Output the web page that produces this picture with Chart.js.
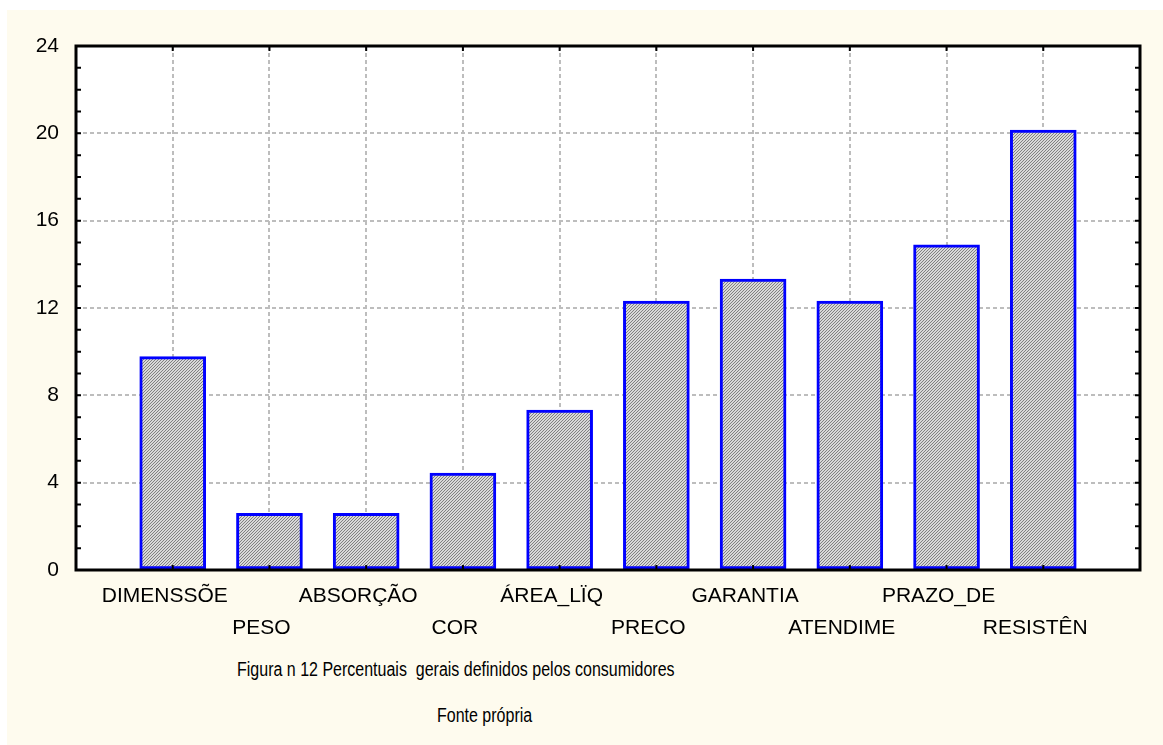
<!DOCTYPE html>
<html>
<head>
<meta charset="utf-8">
<script src="https://cdn.jsdelivr.net/npm/chart.js@4.4.0/dist/chart.umd.min.js"></script>
<style>
  body { margin: 0; background: #fff; width: 1163px; height: 745px; overflow: hidden; position: relative; font-family: "Liberation Sans", Arial, sans-serif; }
  #panel { position: absolute; left: 7px; top: 10px; width: 1156px; height: 735px; background: #fefbee; }
  #chart { position: absolute; left: 0; top: 0; }
  .cap { position: absolute; font-size: 20px; color: #000; white-space: pre; transform: scaleX(0.8); transform-origin: left top; }
</style>
</head>
<body>
<div id="panel">
  <canvas id="chart" width="1156" height="640"></canvas>
  <div class="cap" style="left:230px; top:648px;">Figura n 12 Percentuais  gerais definidos pelos consumidores</div>
  <div class="cap" style="left:430px; top:694px;">Fonte própria</div>
</div>
<script>
// data
const categories = ["DIMENSSÕE", "PESO", "ABSORÇÃO", "COR", "ÁREA_LÏQ", "PRECO", "GARANTIA", "ATENDIME", "PRAZO_DE", "RESISTÊN"];
const percentages = [9.77, 2.6, 2.6, 4.44, 7.33, 12.32, 13.33, 12.32, 14.89, 20.15];
const yTicks = [0, 4, 8, 12, 16, 20, 24];

// fine diagonal hatch like the original fill
function hatch() {
  const c = document.createElement("canvas");
  c.width = 3; c.height = 3;
  const g = c.getContext("2d");
  g.fillStyle = "#d8d8d8";
  g.fillRect(0, 0, 3, 3);
  g.fillStyle = "#808080";
  g.fillRect(0, 2, 1, 1);
  g.fillRect(1, 1, 1, 1);
  g.fillRect(2, 0, 1, 1);
  return g.createPattern(c, "repeat");
}

const frame = {
  id: "frame",
  beforeDraw(chart) {
    const { ctx, chartArea: a } = chart;
    ctx.save();
    ctx.fillStyle = "#fff";
    ctx.fillRect(a.left, a.top, a.right - a.left, a.bottom - a.top);
    ctx.restore();
  },
  afterDatasetsDraw(chart) {
    const { ctx, chartArea: a, scales } = chart;
    ctx.save();
    ctx.strokeStyle = "#000";
    ctx.lineWidth = 3;
    ctx.strokeRect(a.left, a.top, a.right - a.left, a.bottom - a.top);
    // small inward ticks
    ctx.lineWidth = 2;
    ctx.beginPath();
    for (let v = yTicks[0]; v <= yTicks[yTicks.length - 1]; v++) {
      const y = scales.y.getPixelForValue(v);
      ctx.moveTo(a.left, y); ctx.lineTo(a.left + 5, y);
      ctx.moveTo(a.right, y); ctx.lineTo(a.right - 5, y);
    }
    categories.forEach((c, i) => {
      const x = scales.x.getPixelForValue(i + 1);
      ctx.moveTo(x, a.bottom); ctx.lineTo(x, a.bottom - 5);
      ctx.moveTo(x, a.top); ctx.lineTo(x, a.top + 5);
    });
    ctx.stroke();
    ctx.restore();
  }
};

const ctx = document.getElementById("chart").getContext("2d");
new Chart(ctx, {
  type: "bar",
  data: {
    datasets: [{
      data: categories.map((c, i) => ({ x: i + 1, y: percentages[i] })),
      backgroundColor: hatch(),
      borderColor: "#0000ff",
      borderWidth: 3,
      borderSkipped: false,
      barThickness: 66
    }]
  },
  options: {
    responsive: false,
    animation: false,
    layout: { padding: { top: 36, right: 23, left: 0, bottom: 0 } },
    plugins: { legend: { display: false }, tooltip: { enabled: false } },
    scales: {
      x: {
        type: "linear",
        offset: false,
        min: 0,
        max: categories.length + 1,
        afterBuildTicks: (s) => { s.ticks = categories.map((c, i) => ({ value: i + 1 })); },
        afterFit: (s) => { s.height = 80; },
        grid: { offset: false, color: "#bdbdbd", lineWidth: 2, drawTicks: false },
        border: { display: false, dash: [4, 3] },
        ticks: {
          autoSkip: false,
          maxRotation: 0,
          padding: 10,
          labelOffset: -8,
          color: "#000",
          font: { family: "'Liberation Sans', Arial, sans-serif", size: 21, lineHeight: 1.52 },
          callback: (value) => {
            const label = categories[value - 1];
            if (!label) return "";
            return (value - 1) % 2 === 0 ? [label, ""] : ["", label];
          }
        }
      },
      y: {
        min: yTicks[0],
        max: yTicks[yTicks.length - 1],
        afterBuildTicks: (s) => { s.ticks = yTicks.map((v) => ({ value: v })); },
        afterFit: (s) => { s.width = 69; },
        grid: { color: "#bdbdbd", lineWidth: 2, drawTicks: false },
        border: { display: false, dash: [4, 3] },
        ticks: {
          padding: 17,
          color: "#000",
          font: { family: "'Liberation Sans', Arial, sans-serif", size: 21 }
        }
      }
    }
  },
  plugins: [frame]
});
</script>
</body>
</html>
